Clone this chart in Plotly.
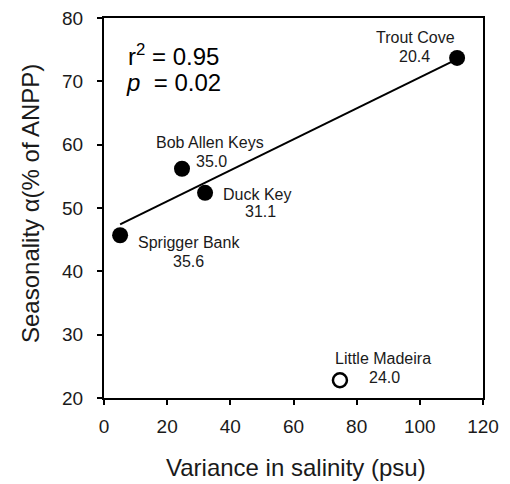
import plotly.graph_objects as go

# Data
sites = ["Trout Cove", "Bob Allen Keys", "Duck Key", "Sprigger Bank", "Little Madeira"]
salinity_var = [111.8, 24.7, 32.0, 5.1, 74.7]
seasonality = [73.7, 56.2, 52.4, 45.7, 22.8]
site_values = ["20.4", "35.0", "31.1", "35.6", "24.0"]
filled = [True, True, True, True, False]

trend_x = [5.1, 111.8]
trend_y = [47.4, 73.5]

x_ticks = [0, 20, 40, 60, 80, 100, 120]
y_ticks = [20, 30, 40, 50, 60, 70, 80]

FONT = "Liberation Sans, Arial, Helvetica, sans-serif"
TXT = "#1a1a1a"

fig = go.Figure()

fig.add_trace(go.Scatter(x=trend_x, y=trend_y, mode="lines",
                         line=dict(color="black", width=2), showlegend=False))

fx = [x for x, f in zip(salinity_var, filled) if f]
fy = [y for y, f in zip(seasonality, filled) if f]
ox = [x for x, f in zip(salinity_var, filled) if not f]
oy = [y for y, f in zip(seasonality, filled) if not f]

fig.add_trace(go.Scatter(x=fx, y=fy, mode="markers",
                         marker=dict(size=16, color="black", symbol="circle",
                                     line=dict(width=0)),
                         showlegend=False))
fig.add_trace(go.Scatter(x=ox, y=oy, mode="markers",
                         marker=dict(size=14, color="white", symbol="circle",
                                     line=dict(color="black", width=2.5)),
                         showlegend=False))

# label positions (data coords): name (x, y), value (x, y)
label_pos = {
    "Trout Cove": ((98.5, 77.0), (98.2, 74.0)),
    "Bob Allen Keys": ((33.6, 60.3), (33.9, 57.3)),
    "Duck Key": ((48.4, 52.2), (49.7, 49.4)),
    "Sprigger Bank": ((26.9, 44.6), (26.9, 41.6)),
    "Little Madeira": ((88.3, 26.3), (88.7, 23.3)),
}
font_lab = dict(family=FONT, size=16, color=TXT)
for s, v in zip(sites, site_values):
    (nx, ny), (vx, vy) = label_pos[s]
    fig.add_annotation(x=nx, y=ny, text=s, showarrow=False, font=font_lab,
                       xanchor="center", yanchor="middle")
    fig.add_annotation(x=vx, y=vy, text=v, showarrow=False, font=font_lab,
                       xanchor="center", yanchor="middle")

font_stat = dict(family=FONT, size=24, color="black")
fig.add_annotation(xref="paper", yref="paper", x=0.058, y=0.902, text="r<sup>2</sup> = 0.95",
                   showarrow=False, font=font_stat, xanchor="left", yanchor="middle")
fig.add_annotation(xref="paper", yref="paper", x=0.054, y=0.829, text="<i>p</i>  = 0.02",
                   showarrow=False, font=font_stat, xanchor="left", yanchor="middle")

# axis titles
fig.add_annotation(xref="paper", yref="paper", x=0.5, y=0, yshift=-69, xshift=2,
                   text="Variance in salinity (psu)", showarrow=False,
                   font=dict(family=FONT, size=24, color=TXT),
                   xanchor="center", yanchor="middle")
fig.add_annotation(xref="paper", yref="paper", x=0, y=0.5, xshift=-74, yshift=4,
                   text="Seasonality α(% of ANPP)", showarrow=False,
                   font=dict(family=FONT, size=24, color=TXT),
                   textangle=-90, xanchor="center", yanchor="middle")

axis_common = dict(showline=True, linecolor="black", linewidth=2, mirror=True,
                   ticks="outside", ticklen=5, tickwidth=2, tickcolor="black",
                   showgrid=False, zeroline=False, automargin=False,
                   ticklabeloverflow="allow",
                   tickfont=dict(family=FONT, size=19, color=TXT))

fig.update_xaxes(range=[0, 120], tickvals=x_ticks, ticklabelstandoff=5, **axis_common)
fig.update_yaxes(range=[20, 80], tickvals=y_ticks, ticklabelstandoff=10, **axis_common)

# page body has an 8px margin; figure sized so the plot lands where the reference has it
fig.update_layout(width=502, height=476, margin=dict(l=96, r=27, t=10, b=86),
                  plot_bgcolor="white", paper_bgcolor="white", showlegend=False)

fig.write_html("out.html")
